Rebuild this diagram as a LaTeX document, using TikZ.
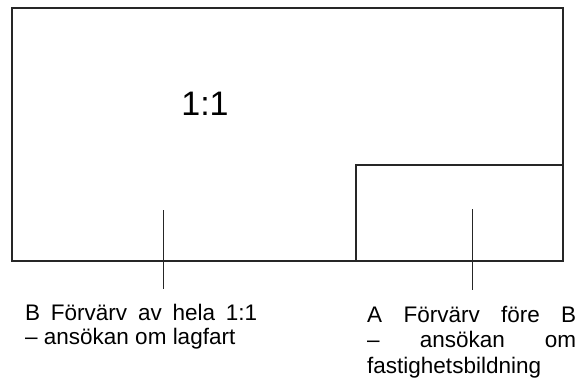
\documentclass[tikz,border=0pt]{standalone}
\usepackage{fontspec}
\setmainfont{Liberation Sans}
\begin{document}
\begin{tikzpicture}[x=1pt,y=-1pt,
  frame/.style={draw=black!85,line width=1.1pt},
  leader/.style={draw=black!85,line width=0.9pt},
  caption/.style={inner sep=0pt,anchor=north west,align=justify}]
\useasboundingbox (0,0) rectangle (579,380);
\coordinate (tl) at (12,8);
\coordinate (br) at (563,261);
\draw[frame] (tl) rectangle (br);
\coordinate (itl) at (356,165);
\coordinate (ibr) at (563,261);
\draw[frame] (itl |- ibr) -- (itl) -- (ibr |- itl);
\node[font=\fontsize{34}{36}\selectfont,inner sep=0pt] (scale) at (205,104) {1:1};
\coordinate (bTop) at (163,210);
\coordinate (bBot) at (163,289);
\coordinate (aTop) at (472,209);
\coordinate (aBot) at (472,290);
\draw[leader] (bTop) -- (bBot);
\draw[leader] (aTop) -- (aBot);
\node[caption,text width=232pt,font=\fontsize{22.5}{24}\selectfont] (btext) at (25,304) {B Förvärv av hela 1:1\linebreak – ansökan om lagfart};
\node[caption,text width=209pt,font=\fontsize{22.5}{25.5}\selectfont] (atext) at (367,306) {A Förvärv före B\linebreak – ansökan om\linebreak fastighetsbildning};
\end{tikzpicture}
\end{document}
